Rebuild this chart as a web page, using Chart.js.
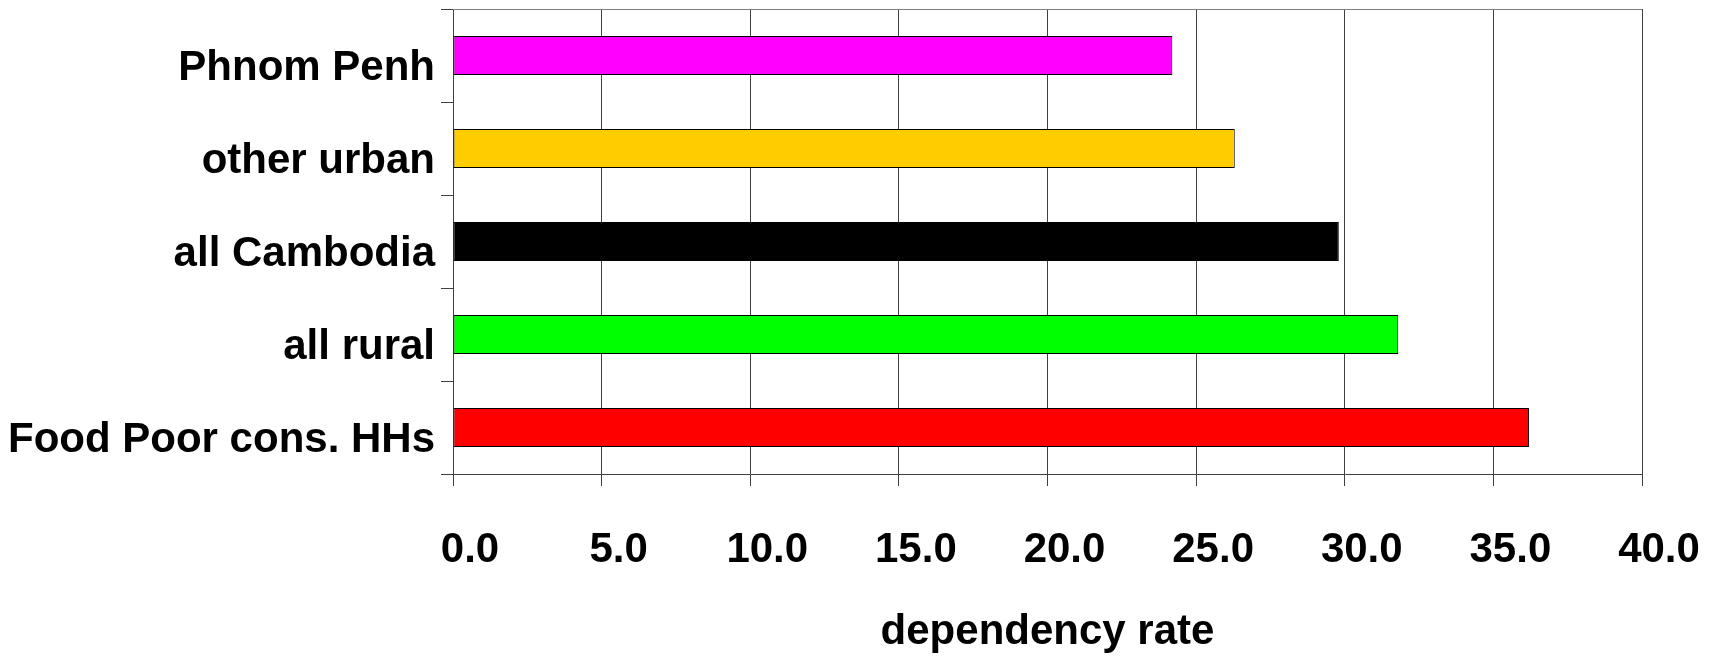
<!DOCTYPE html>
<html>
<head>
<meta charset="utf-8">
<script src="https://cdn.jsdelivr.net/npm/chart.js@4/dist/chart.umd.min.js"></script>
<style>
  html, body { margin: 0; padding: 0; background: #fff; }
  #wrap { width: 1719px; height: 656px; }
</style>
</head>
<body>
<div id="wrap"><canvas id="depChart"></canvas></div>
<script>
const categories = ['Phnom Penh', 'other urban', 'all Cambodia', 'all rural', 'Food Poor cons. HHs'];
const dependencyRate = [24.2, 26.3, 29.8, 31.8, 36.2];
const barColors = ['#ff00ff', '#ffcc00', '#000000', '#00ff00', '#ff0000'];
const xTicks = [0, 5, 10, 15, 20, 25, 30, 35, 40];

const labelFont = { family: "'Liberation Sans', Arial, sans-serif", size: 42, weight: 'bold' };

// grey line along the top of the plot area (left/bottom/right come from axes and grid)
const frame = {
    id: 'frame',
    afterDraw(chart) {
        const { ctx, chartArea: a } = chart;
        ctx.save();
        ctx.strokeStyle = '#808080';
        ctx.lineWidth = 1;
        ctx.beginPath();
        ctx.moveTo(a.left, a.top + 0.5);
        ctx.lineTo(a.right, a.top + 0.5);
        ctx.stroke();
        ctx.restore();
    }
};

new Chart(document.getElementById('depChart'), {
    type: 'bar',
    data: {
        labels: categories,
        datasets: [{
            label: 'dependency rate',
            data: dependencyRate,
            backgroundColor: barColors,
            borderColor: '#000000',
            borderWidth: 1,
            borderSkipped: false,
            categoryPercentage: 1,
            barPercentage: 0.42
        }]
    },
    options: {
        indexAxis: 'y',
        responsive: true,
        maintainAspectRatio: false,
        devicePixelRatio: 1,
        animation: false,
        layout: { padding: { top: 9, right: 77, bottom: 0, left: 0 } },
        plugins: { legend: { display: false }, tooltip: { enabled: false } },
        scales: {
            x: {
                min: 0, max: 40,
                afterBuildTicks: s => { s.ticks = xTicks.map(v => ({ value: v })); },
                afterFit: s => { s.height = 182; s.paddingLeft = 0; s.paddingRight = 0; },
                ticks: {
                    color: '#000', font: labelFont, padding: 39, labelOffset: 17,
                    callback: v => v.toFixed(1)
                },
                grid: { color: '#404040', tickLength: 12, tickColor: '#404040' },
                border: { color: '#404040' },
                title: {
                    display: true, text: 'dependency rate', color: '#000',
                    font: labelFont, padding: { top: 0, bottom: -2 }
                }
            },
            y: {
                afterFit: s => { s.width = 453; s.paddingTop = 0; s.paddingBottom = 0; },
                ticks: { color: '#000', font: labelFont, padding: 6, labelOffset: 13 },
                grid: { drawOnChartArea: false, tickLength: 12, tickColor: '#404040' },
                border: { color: '#404040' }
            }
        }
    },
    plugins: [frame]
});
</script>
</body>
</html>
